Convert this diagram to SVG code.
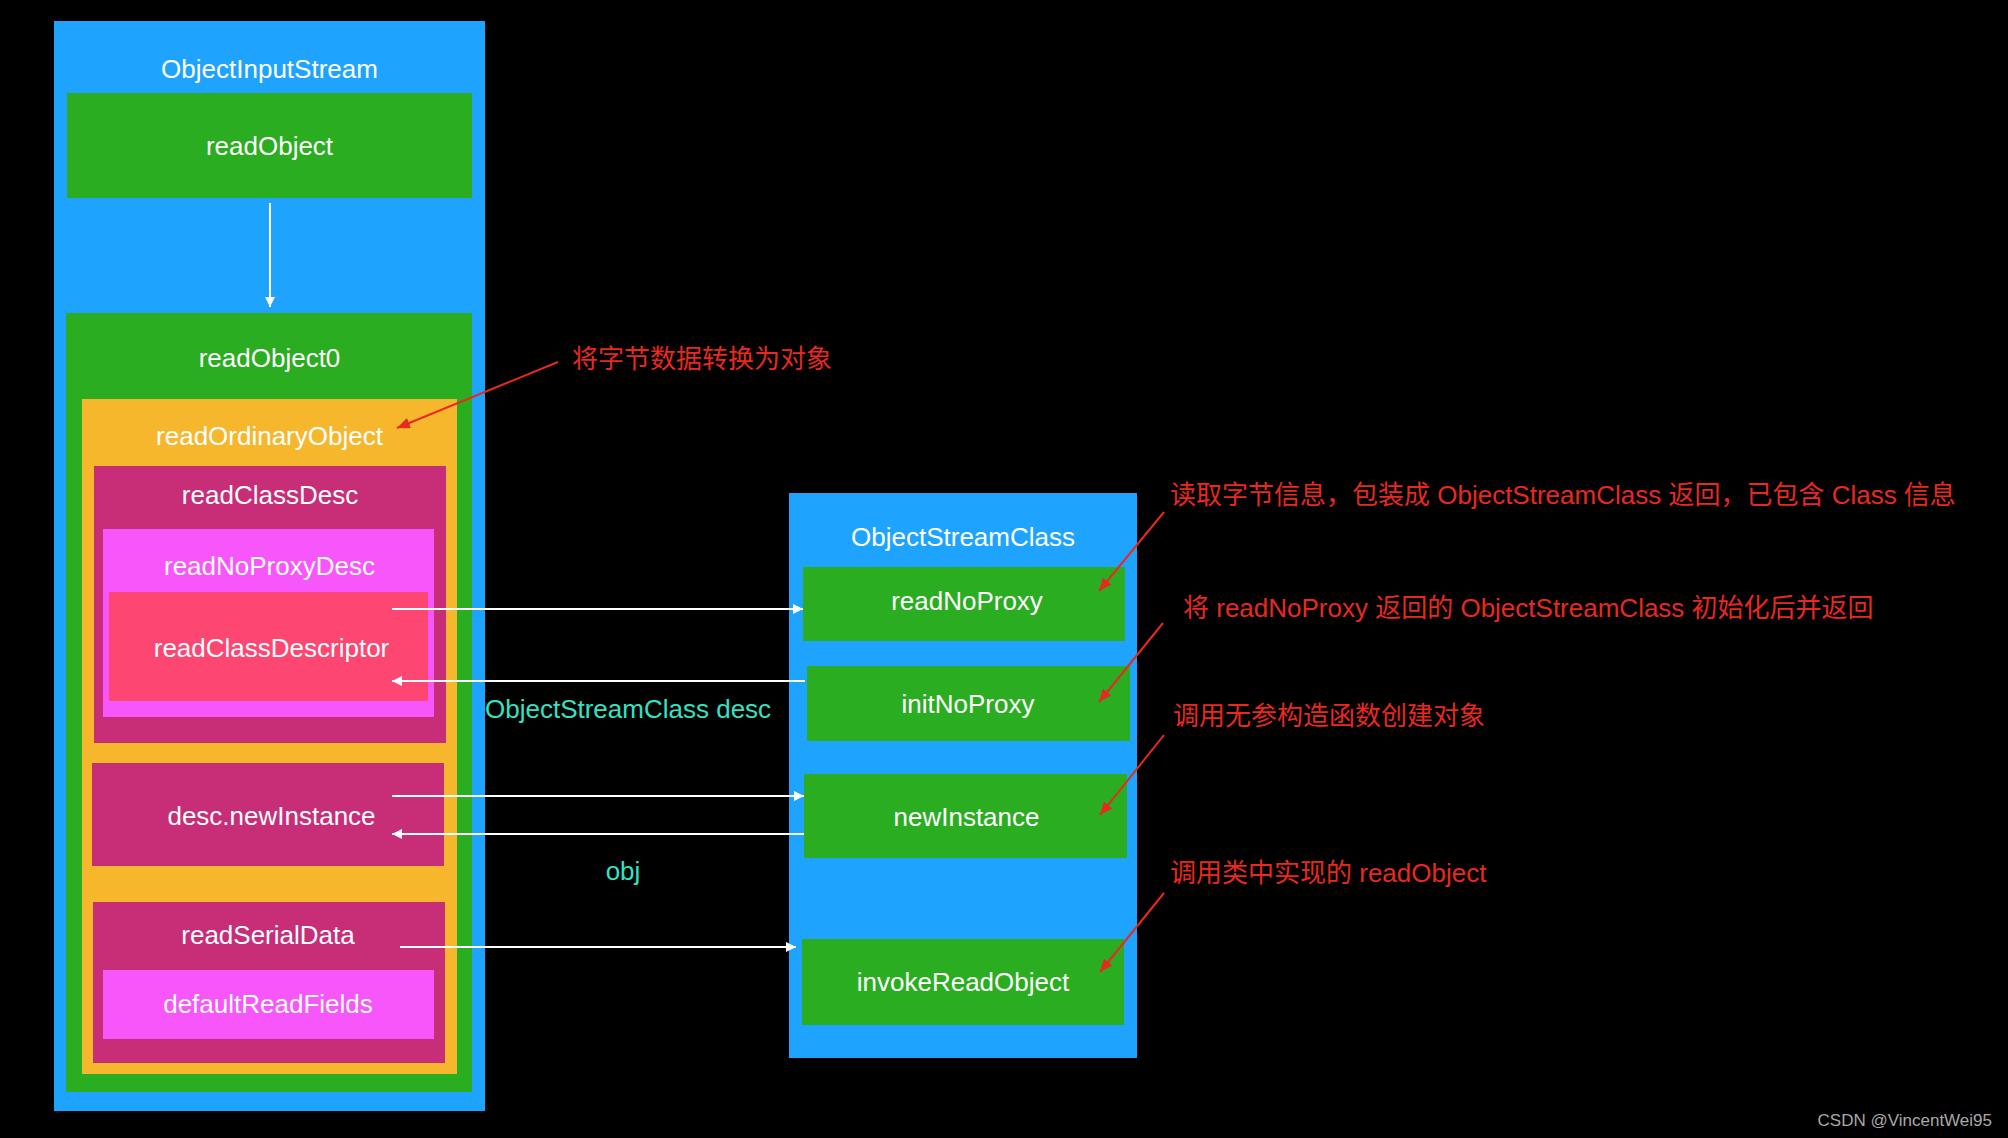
<svg xmlns="http://www.w3.org/2000/svg" width="2008" height="1138" viewBox="0 0 2008 1138">
<style>
.t{font-family:"Liberation Sans","Noto Sans CJK SC",sans-serif;font-size:26px;fill:#ffffff;text-anchor:middle}
.a{font-family:"Liberation Sans","Noto Sans CJK SC",sans-serif;font-size:26px;fill:#e8291f}
.c{font-family:"Liberation Sans","Noto Sans CJK SC",sans-serif;font-size:26px;fill:#33e3c3}
.blue{fill:#1ea4fe}.green{fill:#2aad21}.orange{fill:#f7b72d}.mag{fill:#c82e78}.pink{fill:#f756fa}.rose{fill:#fe4672}
.w{stroke:#ffffff;stroke-width:2;fill:none}
.r{stroke:#e8291f;stroke-width:2;fill:none}
</style>
<defs>
<marker id="wa" markerUnits="userSpaceOnUse" markerWidth="11" markerHeight="11" refX="10" refY="5" orient="auto"><path d="M0,0 L10,5 L0,10 z" fill="#ffffff"/></marker>
<marker id="ra" markerUnits="userSpaceOnUse" markerWidth="14" markerHeight="12" refX="13" refY="5.5" orient="auto"><path d="M0,0 L13,5.5 L0,11 z" fill="#e8291f"/></marker>
</defs>
<rect width="2008" height="1138" fill="#000000"/>
<g id="ObjectInputStream">
<rect class="blue" x="54" y="21" width="431" height="1090"/>
<text class="t" x="269.5" y="78">ObjectInputStream</text>
</g>
<g id="readObject">
<rect class="green" x="67" y="93" width="405" height="105"/>
<text class="t" x="269.5" y="155">readObject</text>
</g>
<g id="readObject0">
<rect class="green" x="66" y="313" width="406" height="779"/>
<text class="t" x="269.5" y="367">readObject0</text>
</g>
<g id="readOrdinaryObject">
<rect class="orange" x="82" y="399" width="375" height="675"/>
<text class="t" x="269.5" y="445">readOrdinaryObject</text>
</g>
<g id="readClassDesc">
<rect class="mag" x="94" y="466" width="352" height="277"/>
<text class="t" x="270" y="504">readClassDesc</text>
</g>
<g id="readNoProxyDesc">
<rect class="pink" x="103" y="529" width="331" height="188"/>
<text class="t" x="269.5" y="575">readNoProxyDesc</text>
</g>
<g id="readClassDescriptor">
<rect class="rose" x="109" y="592" width="319" height="109"/>
<text class="t" x="271.5" y="657">readClassDescriptor</text>
</g>
<g id="descNewInstance">
<rect class="mag" x="92" y="763" width="352" height="103"/>
<text class="t" x="271.5" y="825">desc.newInstance</text>
</g>
<g id="readSerialData">
<rect class="mag" x="93" y="902" width="352" height="161"/>
<text class="t" x="268" y="944">readSerialData</text>
</g>
<g id="defaultReadFields">
<rect class="pink" x="103" y="970" width="331" height="69"/>
<text class="t" x="268" y="1013">defaultReadFields</text>
</g>
<g id="ObjectStreamClass">
<rect class="blue" x="789" y="493" width="348" height="565"/>
<text class="t" x="963" y="546">ObjectStreamClass</text>
</g>
<g id="readNoProxy">
<rect class="green" x="803" y="567" width="322" height="74"/>
<text class="t" x="967" y="610">readNoProxy</text>
</g>
<g id="initNoProxy">
<rect class="green" x="807" y="666" width="323" height="75"/>
<text class="t" x="968" y="713">initNoProxy</text>
</g>
<g id="newInstance">
<rect class="green" x="804" y="774" width="323" height="84"/>
<text class="t" x="966.5" y="826">newInstance</text>
</g>
<g id="invokeReadObject">
<rect class="green" x="802" y="939" width="322" height="86"/>
<text class="t" x="963" y="991">invokeReadObject</text>
</g>
<g id="connectors">
<line class="w" x1="270" y1="203" x2="270" y2="307" marker-end="url(#wa)"/>
<line class="w" x1="392" y1="609" x2="803" y2="609" marker-end="url(#wa)"/>
<line class="w" x1="805" y1="681" x2="392" y2="681" marker-end="url(#wa)"/>
<line class="w" x1="392" y1="796" x2="804" y2="796" marker-end="url(#wa)"/>
<line class="w" x1="804" y1="834" x2="392" y2="834" marker-end="url(#wa)"/>
<line class="w" x1="400" y1="947" x2="796" y2="947" marker-end="url(#wa)"/>
<text class="c" x="485" y="718">ObjectStreamClass desc</text>
<text class="c" x="623" y="880" text-anchor="middle">obj</text>
</g>
<g id="annotations">
<line class="r" x1="558" y1="362" x2="397" y2="428" marker-end="url(#ra)"/>
<line class="r" x1="1164" y1="512" x2="1099" y2="591" marker-end="url(#ra)"/>
<line class="r" x1="1163" y1="623" x2="1099" y2="702" marker-end="url(#ra)"/>
<line class="r" x1="1164" y1="735" x2="1100" y2="815" marker-end="url(#ra)"/>
<line class="r" x1="1164" y1="893" x2="1100" y2="972" marker-end="url(#ra)"/>
<text class="a" x="572" y="368">将字节数据转换为对象</text>
<text class="a" x="1170" y="504">读取字节信息，包装成 ObjectStreamClass 返回，已包含 Class 信息</text>
<text class="a" x="1183" y="617">将 readNoProxy 返回的 ObjectStreamClass 初始化后并返回</text>
<text class="a" x="1173" y="725">调用无参构造函数创建对象</text>
<text class="a" x="1170" y="882">调用类中实现的 readObject</text>
</g>
<text x="1992" y="1126" text-anchor="end" font-family="Liberation Sans, sans-serif" font-size="17" fill="#a8a8a8">CSDN @VincentWei95</text>
</svg>
